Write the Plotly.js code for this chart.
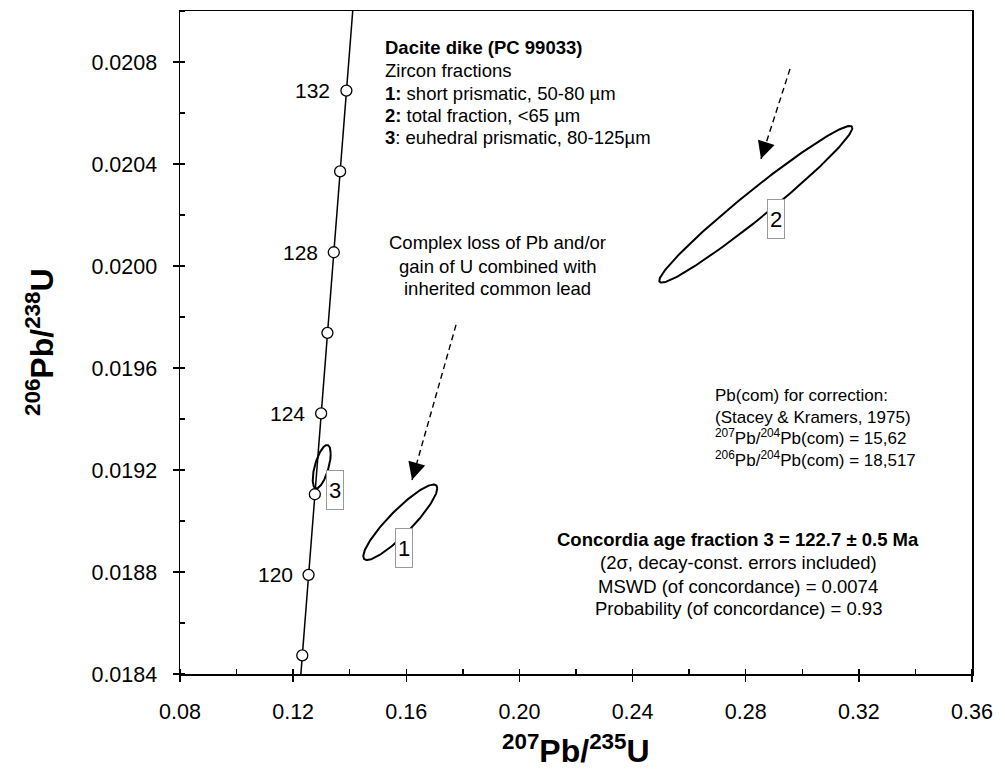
<!DOCTYPE html>
<html>
<head>
<meta charset="utf-8">
<script src="https://cdn.plot.ly/plotly-3.0.1.min.js"></script>
<style>html,body{margin:0;padding:0;background:#fff;}#chart{width:1005px;height:772px;}</style>
</head>
<body>
<div id="chart"></div>
<script>
// Concordia curve (207Pb/235U, 206Pb/238U) read at ages in Ma
const concAges = [116, 118, 120, 122, 124, 126, 128, 130, 132, 134, 136];
const concX = [0.121023, 0.123234, 0.125448, 0.127671, 0.129898, 0.132130, 0.134367, 0.136608, 0.138828, 0.141074, 0.143322];
const concY = [0.018157, 0.018473, 0.018789, 0.019105, 0.019422, 0.019738, 0.020054, 0.020371, 0.020688, 0.021004, 0.021321];
// Age markers shown on the concordia
const markerAges = [118, 120, 122, 124, 126, 128, 130, 132];
// Labelled ages
const labelAges = [120, 124, 128, 132];

// Error ellipses of zircon fractions: centre, half-extent in x and y, correlation
const fractions = ['1', '2', '3'];
const ellCX = [0.15788, 0.28356, 0.13010];
const ellCY = [0.018995, 0.020242, 0.019213];
const ellSX = [0.01308, 0.03412, 0.00318];
const ellSY = [0.000148, 0.000307, 0.0000851];
const ellRho = [0.90, 0.975, 0.60];
// Label box positions for the fractions
const labX = [0.15909, 0.29081, 0.13462];
const labY = [0.018894, 0.020185, 0.019122];

// Axis ticks
const xTicks = [0.08, 0.12, 0.16, 0.20, 0.24, 0.28, 0.32, 0.36];
const yTicks = [0.0184, 0.0188, 0.0192, 0.0196, 0.0200, 0.0204, 0.0208];

const FONT = 'Arial, "Liberation Sans", sans-serif';
const XR = [0.08, 0.36], YR = [0.0184, 0.0210];

function pick(ages, arr) { return ages.map(a => arr[concAges.indexOf(a)]); }

function ellipse(cx, cy, sx, sy, r) {
  const xs = [], ys = [], n = 180, k = Math.sqrt(1 - r * r);
  for (let i = 0; i <= n; i++) {
    const t = 2 * Math.PI * i / n;
    xs.push(cx + sx * Math.cos(t));
    ys.push(cy + sy * (r * Math.cos(t) + k * Math.sin(t)));
  }
  return {xs, ys};
}

const traces = [];
traces.push({x: concX, y: concY, mode: 'lines', line: {color: '#000', width: 1.5}, hoverinfo: 'skip', showlegend: false});
fractions.forEach((f, i) => {
  const e = ellipse(ellCX[i], ellCY[i], ellSX[i], ellSY[i], ellRho[i]);
  traces.push({x: e.xs, y: e.ys, mode: 'lines', line: {color: '#000', width: 2}, hoverinfo: 'skip', showlegend: false});
});
traces.push({x: pick(markerAges, concX), y: pick(markerAges, concY), mode: 'markers',
  marker: {symbol: 'circle', size: 11, color: '#fff', line: {color: '#000', width: 1.3}}, showlegend: false, hoverinfo: 'skip'});
// overlay axes carry the inner halves of the crossing major ticks
traces.push({x: [], y: [], xaxis: 'x2', yaxis: 'y2', showlegend: false, hoverinfo: 'skip'});

const px = p => (p - 180) / 792;
const py = p => (674 - p) / 663;

const ann = [];
function txt(text, x, y, opts) {
  ann.push(Object.assign({xref: 'paper', yref: 'paper', x: px(x), y: py(y), text: text, showarrow: false,
    xanchor: 'left', yanchor: 'middle', font: {family: FONT, size: 18.5, color: '#000'}}, opts || {}));
}
// Age labels on the concordia
const labXs = pick(labelAges, concX), labYs = pick(labelAges, concY);
labelAges.forEach((a, i) => {
  ann.push({x: labXs[i], y: labYs[i], xref: 'x', yref: 'y', text: String(a), showarrow: false,
    xanchor: 'right', yanchor: 'middle', xshift: -14, font: {family: FONT, size: 21, color: '#000'}});
});
// Legend block
txt('<b>Dacite dike (PC 99033)</b>', 383, 47);
txt('Zircon fractions', 383, 70);
txt('<b>1:</b> short prismatic, 50-80 µm', 383, 93);
txt('<b>2:</b> total fraction, &lt;65 µm', 383, 115);
txt('<b>3</b>: euhedral prismatic, 80-125µm', 383, 137.5);
// Comment
txt('Complex loss of Pb and/or', 497, 243, {xanchor: 'center'});
txt('gain of U combined with', 497, 266, {xanchor: 'center'});
txt('inherited common lead', 497, 289, {xanchor: 'center'});
// Common lead
const f17 = {family: FONT, size: 17, color: '#000'};
txt('Pb(com) for correction:', 713, 396, {font: f17});
txt('(Stacey &amp; Kramers, 1975)', 713, 417, {font: f17});
txt('<sup>207</sup>Pb/<sup>204</sup>Pb(com) = 15,62', 713, 437, {font: f17});
txt('<sup>206</sup>Pb/<sup>204</sup>Pb(com) = 18,517', 713, 459, {font: f17});
// Concordia age
txt('<b>Concordia age fraction 3 = 122.7 ± 0.5 Ma</b>', 738, 539, {xanchor: 'center'});
txt('(2σ, decay-const. errors included)', 738, 562, {xanchor: 'center'});
txt('MSWD (of concordance) = 0.0074', 738, 586, {xanchor: 'center'});
txt('Probability (of concordance) = 0.93', 738, 608, {xanchor: 'center'});
// Axis titles
txt('<b><sup>207</sup>Pb/<sup>235</sup>U</b>', 576, 749, {xanchor: 'center', font: {family: FONT, size: 32, color: '#000'}});
ann.push({xref: 'paper', yref: 'paper', x: px(40), y: py(342), text: '<b><sup>206</sup>Pb/<sup>238</sup>U</b>', showarrow: false,
  textangle: -90, xanchor: 'center', yanchor: 'middle', font: {family: FONT, size: 32, color: '#000'}});
// Fraction labels in boxes
fractions.forEach((f, i) => {
  ann.push({x: labX[i], y: labY[i], xref: 'x', yref: 'y', text: f, showarrow: false, bgcolor: '#fff',
    bordercolor: '#999', borderwidth: 1, borderpad: 2, width: 12, height: 34,
    font: {family: FONT, size: 22, color: '#000'}});
});
// Arrow heads (dashed shafts are shapes)
const arrows = [
  {x0: 0.17758, y0: 0.019769, x1: 0.16202, y1: 0.019161, ax: 4, ay: -14},
  {x0: 0.29566, y0: 0.020773, x1: 0.28540, y1: 0.020420, ax: 4.3, ay: -13.5}
];
const shapes = [];
arrows.forEach(a => {
  shapes.push({type: 'line', xref: 'x', yref: 'y', x0: a.x0, y0: a.y0, x1: a.x1, y1: a.y1,
    line: {color: '#000', width: 1.4, dash: '6px,4px'}});
  ann.push({x: a.x1, y: a.y1, xref: 'x', yref: 'y', ax: a.ax, ay: a.ay, text: '', showarrow: true,
    arrowhead: 2, arrowsize: 2.9, arrowwidth: 1.2, arrowcolor: '#000', standoff: 0});
});

const tickFont = {family: FONT, size: 21.5, color: '#000'};
const layout = {
  width: 1005, height: 772,
  margin: {l: 180, r: 33, t: 11, b: 98},
  paper_bgcolor: '#fff', plot_bgcolor: '#fff',
  showlegend: false,
  font: {family: FONT, color: '#000'},
  xaxis: {range: XR, tickvals: xTicks, ticktext: xTicks.map(v => v.toFixed(2)), ticks: 'outside', ticklen: 6, tickwidth: 1.3,
    tickcolor: '#000', showgrid: false, zeroline: false, showline: true, linecolor: '#000', linewidth: 1.5, mirror: true,
    tickfont: tickFont, ticklabelstandoff: 12,
    minor: {dtick: 0.02, ticks: 'inside', ticklen: 5, tickwidth: 1.3, tickcolor: '#000', showgrid: false}},
  yaxis: {range: YR, tickvals: yTicks, ticktext: yTicks.map(v => v.toFixed(4)), ticks: 'outside', ticklen: 6, tickwidth: 1.3,
    tickcolor: '#000', showgrid: false, zeroline: false, showline: true, linecolor: '#000', linewidth: 1.5, mirror: true,
    tickfont: tickFont, ticklabelstandoff: 11,
    minor: {dtick: 0.0002, ticks: 'inside', ticklen: 5, tickwidth: 1.3, tickcolor: '#000', showgrid: false}},
  xaxis2: {overlaying: 'x', anchor: 'y2', range: XR, tickvals: xTicks, ticks: 'inside', ticklen: 5, tickwidth: 1.3,
    tickcolor: '#000', showticklabels: false, showgrid: false, zeroline: false, showline: false},
  yaxis2: {overlaying: 'y', anchor: 'x2', range: YR, tickvals: yTicks, ticks: 'inside', ticklen: 5, tickwidth: 1.3,
    tickcolor: '#000', showticklabels: false, showgrid: false, zeroline: false, showline: false},
  annotations: ann,
  shapes: shapes
};

Plotly.newPlot('chart', traces, layout, {staticPlot: true, displayModeBar: false});
</script>
</body>
</html>
